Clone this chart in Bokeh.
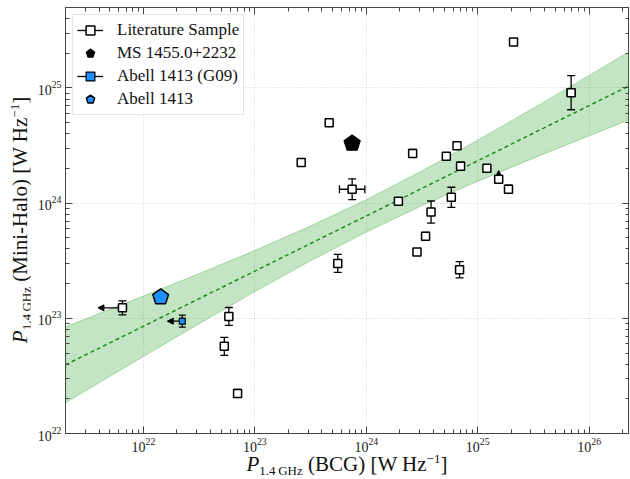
import numpy as np
from bokeh.plotting import figure
from bokeh.layouts import row, column
from bokeh.models import (FixedTicker, Legend, LegendItem, Arrow, NormalHead, Range1d, Div,
                          LogAxis, CustomJSTickFormatter)
from bokeh.embed import file_html
from bokeh.resources import INLINE

SERIF = "Liberation Serif"

# ---------------- data (log10 of W/Hz) ----------------
lit_logx = [21.812, 22.767, 22.726, 22.845, 23.416, 23.667, 23.873, 23.744, 24.288, 24.416,
            24.455, 24.532, 24.581, 24.718, 24.814, 24.846, 24.837, 24.763, 25.082, 25.188,
            25.276, 25.321, 25.838]
lit_logy = [23.091, 23.016, 22.757, 22.348, 24.353, 24.698, 24.121, 23.477, 24.017, 24.432,
            23.575, 23.712, 23.923, 24.408, 24.498, 24.321, 23.422, 24.051, 24.304, 24.208,
            24.121, 25.400, 24.959]
lit_yerr = [0.061, 0.078, 0.078, 0.035, 0.026, 0.0, 0.090, 0.078, 0.026, 0.035,
            0.0, 0.035, 0.096, 0.0, 0.0, 0.035, 0.070, 0.087, 0.0, 0.0,
            0.035, 0.026, 0.148]
lit_xerr = [0.0, 0.0, 0.0, 0.0, 0.0, 0.0, 0.114, 0.0, 0.0, 0.0,
            0.0, 0.0, 0.0, 0.0, 0.0, 0.0, 0.0, 0.0, 0.0, 0.0,
            0.0, 0.0, 0.036]
lit_xupper = [0]      # index of x upper limits
lit_ylower = [19]     # index of y lower limits

ms_logx = [23.873]
ms_logy = [24.519]

g09_logx = [22.349]
g09_logy = [22.975]
g09_yerr = [0.052]

a1413_logx = [22.155]
a1413_logy = [23.184]

fit_logx = [21.3, 21.5, 22.0, 22.5, 23.0, 23.5, 24.0, 24.5, 25.0, 25.5, 26.0, 26.4]
fit_mid = [22.596, 22.692, 22.931, 23.171, 23.410, 23.650, 23.889, 24.129, 24.368, 24.608, 24.847, 25.039]
fit_lo = [22.266, 22.382, 22.669, 22.954, 23.232, 23.500, 23.749, 23.979, 24.190, 24.391, 24.585, 24.739]
fit_hi = [22.926, 23.002, 23.193, 23.388, 23.589, 23.801, 24.029, 24.280, 24.547, 24.825, 25.109, 25.339]

x_major = [1e22, 1e23, 1e24, 1e25, 1e26]
y_major = [1e22, 1e23, 1e24, 1e25]

# ---------------- figure ----------------
p = figure(width=599, height=458, x_axis_type="log", y_axis_type="log",
           x_range=Range1d(2.0e21, 2.3e26), y_range=Range1d(1e22, 5e25),
           output_backend="svg", toolbar_location=None,
           min_border_left=35, min_border_right=0, min_border_top=7, min_border_bottom=25)
p.background_fill_color = "white"
p.border_fill_color = "white"
p.outline_line_color = "#444444"
p.outline_line_width = 1

x_minor = [m * 10.0 ** d for d in range(21, 27) for m in range(2, 10)]
y_minor = [m * 10.0 ** d for d in range(21, 26) for m in range(2, 10)]
xt = FixedTicker(ticks=x_major, minor_ticks=x_minor)
yt = FixedTicker(ticks=y_major, minor_ticks=y_minor)


def style_axis(ax, labels=True):
    ax.axis_line_color = "#444444"
    ax.major_tick_line_color = "#444444"
    ax.minor_tick_line_color = "#444444"
    ax.major_tick_in = 7
    ax.major_tick_out = 0
    ax.minor_tick_in = 4
    ax.minor_tick_out = 0
    ax.major_label_text_font = SERIF
    ax.major_label_text_font_size = "14px" if labels else "1px"
    ax.major_label_text_color = "#222222"
    ax.major_label_standoff = 4 if labels else 0


p.xaxis.ticker = xt
p.yaxis.ticker = yt
for ax in p.xaxis + p.yaxis:
    style_axis(ax)

# mirrored tick marks on top and right (no labels)
blank = CustomJSTickFormatter(code="return ''")
top_ax = LogAxis(ticker=FixedTicker(ticks=x_major, minor_ticks=x_minor), formatter=blank)
right_ax = LogAxis(ticker=FixedTicker(ticks=y_major, minor_ticks=y_minor), formatter=blank)
style_axis(top_ax, False)
style_axis(right_ax, False)
p.add_layout(top_ax, "above")
p.add_layout(right_ax, "right")

for g, t in ((p.xgrid, xt), (p.ygrid, yt)):
    g.ticker = t
    g.grid_line_color = "#cfcfcf"
    g.grid_line_dash = "1 2"
    g.grid_line_width = 1

# ---------------- fit band ----------------
fx = [10 ** v for v in fit_logx]
p.varea(x=fx, y1=[10 ** v for v in fit_lo], y2=[10 ** v for v in fit_hi],
        fill_color="#2ca02c", fill_alpha=0.28)
p.line(fx, [10 ** v for v in fit_lo], line_color="#2ca02c", line_alpha=0.35, line_width=1)
p.line(fx, [10 ** v for v in fit_hi], line_color="#2ca02c", line_alpha=0.35, line_width=1)
p.line(fx, [10 ** v for v in fit_mid], line_color="#1a8f1a", line_width=1.5, line_dash="4 3")

# ---------------- literature sample ----------------
lx = [10 ** v for v in lit_logx]
ly = [10 ** v for v in lit_logy]
ylo = [10 ** (y - e) for y, e in zip(lit_logy, lit_yerr)]
yhi = [10 ** (y + e) for y, e in zip(lit_logy, lit_yerr)]
lit_seg = p.segment(x0=lx, y0=ylo, x1=lx, y1=yhi, line_color="black", line_width=1.3)
lit_caps = p.scatter(x=lx + lx, y=ylo + yhi, marker="dash", size=8, line_color="black",
                     line_width=1.3)
xi = [i for i, e in enumerate(lit_xerr) if e > 0]
xlo = [10 ** (lit_logx[i] - lit_xerr[i]) for i in xi]
xhi = [10 ** (lit_logx[i] + lit_xerr[i]) for i in xi]
xy = [ly[i] for i in xi]
p.segment(x0=xlo, y0=xy, x1=xhi, y1=xy, line_color="black", line_width=1.3)
p.scatter(x=xlo + xhi, y=xy + xy, marker="dash", angle=np.pi / 2, size=8,
          line_color="black", line_width=1.3)

for i in lit_xupper:
    p.add_layout(Arrow(end=NormalHead(size=6, fill_color="black", line_color="black"),
                       x_start=10 ** (lit_logx[i] - 0.04), y_start=ly[i],
                       x_end=10 ** (lit_logx[i] - 0.22), y_end=ly[i],
                       line_color="black", line_width=1.3))
for i in lit_ylower:
    p.add_layout(Arrow(end=NormalHead(size=5, fill_color="black", line_color="black"),
                       x_start=lx[i], y_start=10 ** (lit_logy[i] + 0.035),
                       x_end=lx[i], y_end=10 ** (lit_logy[i] + 0.075),
                       line_color="black", line_width=1.2))

lit_sq = p.scatter(x=lx, y=ly, marker="square", size=8, fill_color="white",
                   line_color="black", line_width=1.5)

# ---------------- Abell 1413 (G09) ----------------
gx = [10 ** v for v in g09_logx]
gy = [10 ** v for v in g09_logy]
glo = [10 ** (y - e) for y, e in zip(g09_logy, g09_yerr)]
ghi = [10 ** (y + e) for y, e in zip(g09_logy, g09_yerr)]
g_seg = p.segment(x0=gx, y0=glo, x1=gx, y1=ghi, line_color="black", line_width=1.3)
g_caps = p.scatter(x=gx + gx, y=glo + ghi, marker="dash", size=7, line_color="black",
                   line_width=1.3)
for x, y in zip(g09_logx, g09_logy):
    p.add_layout(Arrow(end=NormalHead(size=6, fill_color="black", line_color="black"),
                       x_start=10 ** (x - 0.03), y_start=10 ** y,
                       x_end=10 ** (x - 0.135), y_end=10 ** y,
                       line_color="black", line_width=1.3))
g_sq = p.scatter(x=gx, y=gy, marker="square", size=6, fill_color="#1E90FF",
                 line_color="black", line_width=1.2)

# ---------------- pentagons ----------------
ms_r = p.ngon(x=[10 ** v for v in ms_logx], y=[10 ** v for v in ms_logy], radius=8.5,
              radius_units="screen", n=5, fill_color="black", line_color="black",
              line_width=1.2)
a_r = p.ngon(x=[10 ** v for v in a1413_logx], y=[10 ** v for v in a1413_logy], radius=8.3,
             radius_units="screen", n=5, fill_color="#1E90FF", line_color="black",
             line_width=1.5)

# ---------------- legend ----------------
legend = Legend(items=[
    LegendItem(label="Literature Sample", renderers=[lit_seg, lit_caps, lit_sq]),
    LegendItem(label="MS 1455.0+2232", renderers=[ms_r]),
    LegendItem(label="Abell 1413 (G09)", renderers=[g_seg, g_caps, g_sq]),
    LegendItem(label="Abell 1413", renderers=[a_r]),
], location="top_left")
legend.margin = 7
legend.padding = 4
legend.spacing = 1
legend.glyph_width = 26
legend.glyph_height = 22
legend.label_height = 22
legend.label_standoff = 14
legend.label_text_font = SERIF
legend.label_text_font_size = "17px"
legend.label_text_color = "#111111"
legend.border_line_color = "#cccccc"
legend.border_line_width = 1
legend.background_fill_color = "white"
legend.background_fill_alpha = 0.85
p.add_layout(legend)

# ---------------- axis labels as HTML text ----------------
FONT = "font-family:'Liberation Serif',serif;font-size:21px;line-height:21px;color:#111;white-space:nowrap;"
SUB = "<span style=\"font-size:13px;line-height:0;vertical-align:-4px;\">1.4&#8201;GHz</span>"
SUP = "<span style=\"font-size:13px;line-height:0;vertical-align:8px;\">&minus;1</span>"

x_text = f"<i>P</i>{SUB} (BCG) [W Hz{SUP}]"
y_text = f"<i>P</i>{SUB} (Mini-Halo) [W Hz{SUP}]"

xdiv = Div(text=(f"<div style=\"position:absolute;left:317px;top:-4px;"
                 f"transform:translateX(-50%);{FONT}\">{x_text}</div>"),
           width=599, height=20, margin=0, styles={"overflow": "visible"})
ydiv = Div(text=(f"<div style=\"position:absolute;left:20px;top:220px;"
                 f"transform:translate(-50%,-50%) rotate(-90deg);{FONT}\">{y_text}</div>"),
           width=30, height=478, margin=0, styles={"overflow": "visible"})

layout = row(ydiv, column(p, xdiv, spacing=0), spacing=0)

open("out.html", "w").write(file_html(layout, INLINE))
